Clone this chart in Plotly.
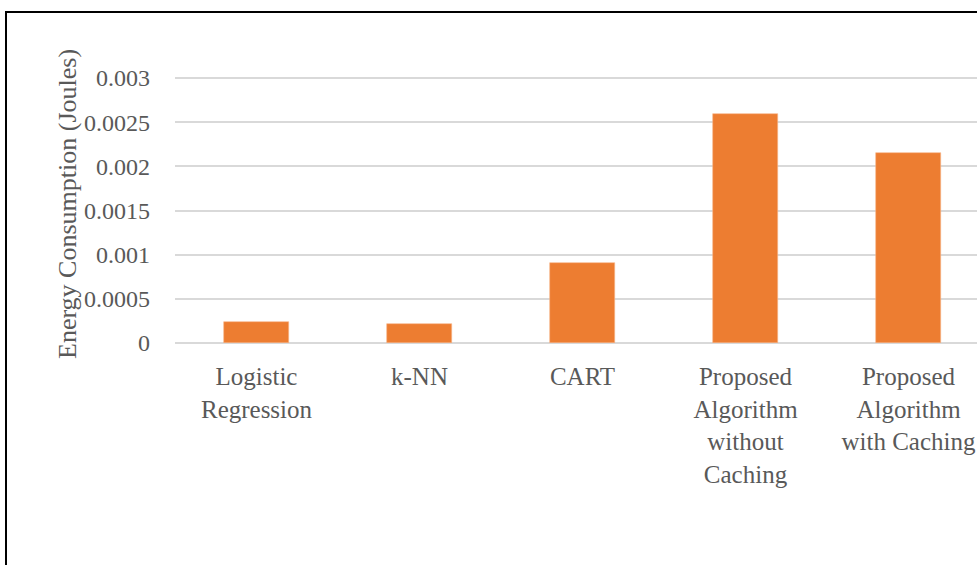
import plotly.graph_objects as go

categories = [
    "Logistic<br>Regression",
    "k-NN",
    "CART",
    "Proposed<br>Algorithm<br>without<br>Caching",
    "Proposed<br>Algorithm<br>with Caching",
]
energy_joules = [0.00024, 0.00021, 0.00091, 0.00259, 0.00215]
y_ticks = [0, 0.0005, 0.001, 0.0015, 0.002, 0.0025, 0.003]
y_tick_text = ["0", "0.0005", "0.001", "0.0015", "0.002", "0.0025", "0.003"]

W, H = 977, 565
PX_PER_HALF_MILLI = 44.0
HEADROOM_PX = 4
ML, MB = 175, 222
MT = 78 - HEADROOM_PX
Y_TOP = 0.003 + 0.0005 * HEADROOM_PX / PX_PER_HALF_MILLI  # keeps the top gridline inside
FONT = "Palatino Linotype, Book Antiqua, Palatino, Liberation Serif, serif"
TXT = "#595959"

fig = go.Figure(
    go.Bar(
        x=list(range(len(categories))),
        y=energy_joules,
        width=0.4,
        marker=dict(color="#ED7D31", line=dict(color="#F7B58A", width=0.6)),
        hoverinfo="skip",
    )
)


def px_x(p):
    return (p - ML) / (W - ML)


def px_y(p):
    return (H - MB - p) / (H - MB - MT)


fig.update_layout(
    width=W,
    height=H,
    margin=dict(l=ML, r=0, t=MT, b=MB),
    paper_bgcolor="white",
    plot_bgcolor="white",
    showlegend=False,
    font=dict(family=FONT, size=24, color=TXT),
    bargap=0,
    xaxis=dict(
        tickmode="array",
        tickvals=list(range(len(categories))),
        ticktext=categories,
        range=[-0.5, -0.5 + (W - ML) / 163.0],
        showgrid=False,
        showline=False,
        zeroline=False,
        ticks="",
        ticklabelstandoff=16,
        tickfont=dict(family=FONT, size=25, color=TXT),
    ),
    yaxis=dict(
        range=[0, Y_TOP],
        tickmode="array",
        tickvals=y_ticks,
        ticktext=y_tick_text,
        showgrid=True,
        gridcolor="#D9D9D9",
        gridwidth=1.5,
        zeroline=True,
        zerolinecolor="#D9D9D9",
        zerolinewidth=2,
        showline=False,
        ticks="",
        ticklabelstandoff=24,
        tickfont=dict(family=FONT, size=24, color=TXT),
    ),
    annotations=[
        dict(
            text="Energy Consumption (Joules)",
            xref="paper",
            yref="paper",
            x=px_x(67),
            y=px_y(204),
            xanchor="center",
            yanchor="middle",
            textangle=-90,
            showarrow=False,
            font=dict(family=FONT, size=26, color=TXT),
        )
    ],
    shapes=[
        dict(
            type="rect",
            xref="paper",
            yref="paper",
            x0=px_x(6),
            x1=px_x(W + 20),
            y0=px_y(12),
            y1=px_y(H + 20),
            line=dict(color="black", width=2),
            fillcolor="rgba(0,0,0,0)",
            layer="above",
        )
    ],
)

fig.write_html("out.html")
